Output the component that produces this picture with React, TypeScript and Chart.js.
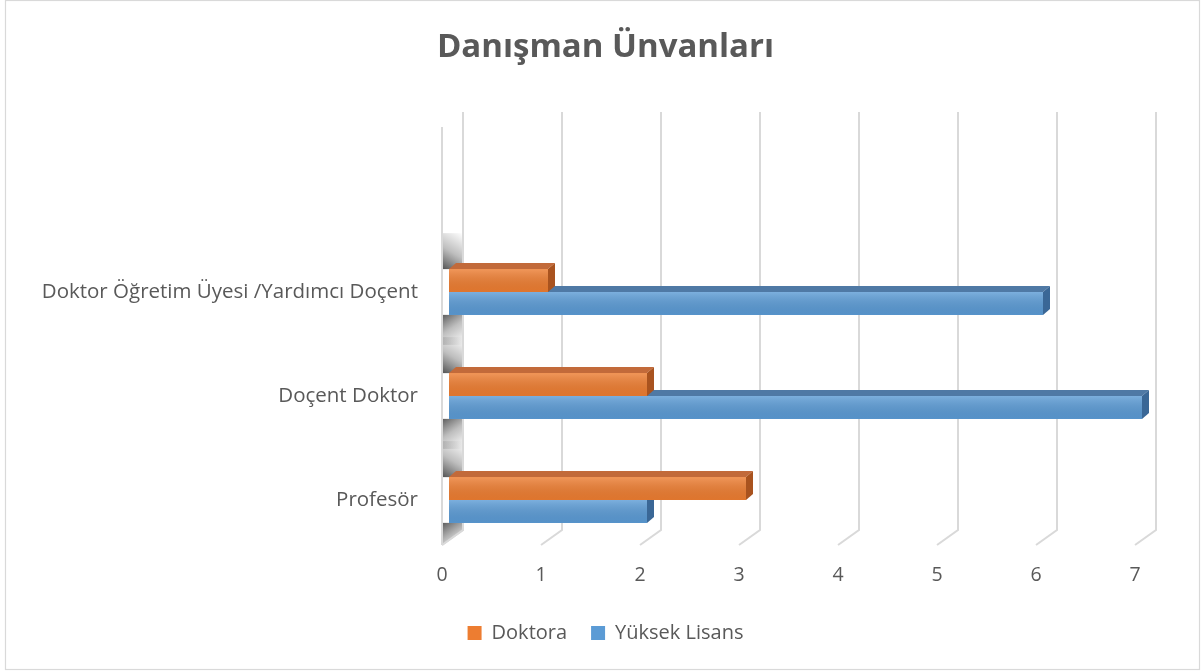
import React, { useEffect, useRef } from "react";
import { Chart, registerables } from "chart.js";

Chart.register(...registerables);

// ---- data ----
const titleText = "Danışman Ünvanları";
const categories = ["Doktor Öğretim Üyesi /Yardımcı Doçent", "Doçent Doktor", "Profesör"];
const seriesNames = ["Doktora", "Yüksek Lisans"];
const doktora = [1, 2, 3];
const yuksekLisans = [6, 7, 2];
const xTickValues = [0, 1, 2, 3, 4, 5, 6, 7];

// ---- style ----
const FONT = "'Open Sans', 'DejaVu Sans', sans-serif";
const TEXT = "#595959";
const GRID = "#d9d9d9";
const frontColors = ["#ED7D31", "#5B9BD5"];
const topColors = ["#C26A3A", "#4F79A5"];
const sideColors = ["#A9531F", "#3A6796"];
const DX = 7;
const DY = 6;

const bgPlugin = {
  id: "bgBorder",
  beforeDraw(chart: any) {
    const { ctx, width, height } = chart;
    ctx.save();
    ctx.fillStyle = "#ffffff";
    ctx.fillRect(0, 0, width, height);
    ctx.strokeStyle = GRID;
    ctx.lineWidth = 1.2;
    ctx.strokeRect(5.5, 0.5, width - 8, height - 3);
    ctx.restore();
  },
};

const wallPlugin = {
  id: "wall3d",
  beforeDatasetsDraw(chart: any) {
    const { ctx, chartArea } = chart;
    const xs = chart.scales.x;
    const ys = chart.scales.y;
    const backTop = chartArea.top - 128;
    const backBottom = chartArea.bottom - 22;
    const frontTop = chartArea.top - 113;
    const frontBottom = chartArea.bottom - 7;
    ctx.save();
    ctx.lineWidth = 2;
    ctx.strokeStyle = GRID;
    xTickValues.forEach((v) => {
      const px = xs.getPixelForValue(v);
      const bx = px + 14;
      const fx = px - 7;
      ctx.beginPath();
      ctx.moveTo(bx, backTop);
      ctx.lineTo(bx, backBottom);
      ctx.lineTo(fx, frontBottom);
      ctx.stroke();
    });
    // left wall (value 0)
    const p0 = xs.getPixelForValue(0);
    const bx = p0 + 14;
    const fx = p0 - 7;
    ctx.beginPath();
    ctx.moveTo(fx, frontTop);
    ctx.lineTo(bx, backTop);
    ctx.lineTo(bx, backBottom);
    ctx.lineTo(fx, frontBottom);
    ctx.closePath();
    ctx.fillStyle = "#ffffff";
    ctx.fill();
    ctx.save();
    ctx.clip();
    const half = (ys.getPixelForValue(1) - ys.getPixelForValue(0)) * 0.22;
    const span = 30;
    categories.forEach((_, i) => {
      const yc = ys.getPixelForValue(i);
      const gt = yc - half - DY;
      const gb = yc + half;
      const g1 = ctx.createLinearGradient(bx, gt - span, fx, gt + 4);
      g1.addColorStop(0, "rgba(70,70,70,0)");
      g1.addColorStop(0.55, "rgba(70,70,70,0.35)");
      g1.addColorStop(1, "rgba(50,50,50,0.8)");
      ctx.fillStyle = g1;
      ctx.fillRect(fx, gt - span, bx - fx, span + 6);
      const g2 = ctx.createLinearGradient(fx, gb, bx, gb + span);
      g2.addColorStop(0, "rgba(50,50,50,0.8)");
      g2.addColorStop(0.45, "rgba(70,70,70,0.35)");
      g2.addColorStop(1, "rgba(70,70,70,0)");
      ctx.fillStyle = g2;
      ctx.fillRect(fx, gb, bx - fx, span);
    });
    ctx.restore();
    ctx.beginPath();
    ctx.moveTo(fx, frontTop);
    ctx.lineTo(fx, frontBottom);
    ctx.moveTo(bx, backTop);
    ctx.lineTo(bx, backBottom);
    ctx.lineTo(fx, frontBottom);
    ctx.stroke();
    ctx.restore();
  },
  afterDraw(chart: any) {
    const { ctx, chartArea } = chart;
    const xs = chart.scales.x;
    ctx.save();
    ctx.fillStyle = TEXT;
    ctx.font = `19.5px ${FONT}`;
    ctx.textAlign = "center";
    ctx.textBaseline = "middle";
    xTickValues.forEach((v) => {
      ctx.fillText(String(v), xs.getPixelForValue(v) - 7, chartArea.bottom + 23);
    });
    ctx.restore();
  },
};

const barPlugin = {
  id: "bar3d",
  afterDatasetDraw(chart: any, args: any) {
    const ctx = chart.ctx;
    const i = args.index;
    ctx.save();
    args.meta.data.forEach((el: any) => {
      const { x, y, base, height } = el.getProps(["x", "y", "base", "height"], true);
      const top = y - height / 2;
      const bottom = y + height / 2;
      const g = ctx.createLinearGradient(0, top, 0, bottom);
      g.addColorStop(0, "rgba(255,255,255,0.2)");
      g.addColorStop(1, "rgba(0,0,0,0.06)");
      ctx.fillStyle = g;
      ctx.fillRect(base, top, x - base, height);
      ctx.fillStyle = topColors[i];
      ctx.beginPath();
      ctx.moveTo(base, top);
      ctx.lineTo(x, top);
      ctx.lineTo(x + DX, top - DY);
      ctx.lineTo(base + DX, top - DY);
      ctx.closePath();
      ctx.fill();
      ctx.fillStyle = sideColors[i];
      ctx.beginPath();
      ctx.moveTo(x, top);
      ctx.lineTo(x + DX, top - DY);
      ctx.lineTo(x + DX, bottom - DY);
      ctx.lineTo(x, bottom);
      ctx.closePath();
      ctx.fill();
    });
    ctx.restore();
  },
};

export default function App() {
  const ref = useRef<HTMLCanvasElement>(null);
  useEffect(() => {
    if (!ref.current) return;
    const chart = new Chart(ref.current, {
      type: "bar",
      data: {
        labels: categories,
        datasets: [
          { label: seriesNames[0], data: doktora, backgroundColor: frontColors[0], borderWidth: 0 },
          { label: seriesNames[1], data: yuksekLisans, backgroundColor: frontColors[1], borderWidth: 0 },
        ],
      },
      options: {
        indexAxis: "y",
        responsive: false,
        animation: false,
        events: [],
        datasets: { bar: { categoryPercentage: 0.44, barPercentage: 1 } },
        layout: { padding: { left: 9, right: 0, top: 0, bottom: 19 } },
        scales: {
          x: {
            type: "linear",
            min: 0,
            max: 7,
            grid: { display: false, drawTicks: false },
            border: { display: false },
            ticks: { display: false },
            afterFit: (s: any) => { s.height = 47; },
          },
          y: {
            type: "category",
            grid: { display: false, drawTicks: false },
            border: { display: false },
            ticks: { color: TEXT, font: { family: FONT, size: 20.5 }, padding: 31 },
            afterFit: (s: any) => { s.width = 440; },
          },
          y2: {
            type: "linear",
            position: "right",
            grid: { display: false, drawTicks: false },
            border: { display: false },
            ticks: { display: false },
            afterFit: (s: any) => { s.width = 60; },
          },
        },
        plugins: {
          title: {
            display: true,
            text: titleText,
            color: TEXT,
            font: { family: FONT, size: 33, weight: "bold" },
            padding: { top: 28, bottom: 172.4 },
          },
          legend: {
            position: "bottom",
            labels: {
              color: TEXT,
              font: { family: FONT, size: 20 },
              boxWidth: 14,
              boxHeight: 14,
              padding: 24,
            },
          },
          tooltip: { enabled: false },
        },
      },
      plugins: [bgPlugin, wallPlugin, barPlugin],
    });
    return () => chart.destroy();
  }, []);
  return (
    <div style={{ position: "absolute", left: 0, top: 0, width: 1202, height: 672 }}>
      <canvas ref={ref} width={1202} height={672} style={{ display: "block" }} />
    </div>
  );
}
